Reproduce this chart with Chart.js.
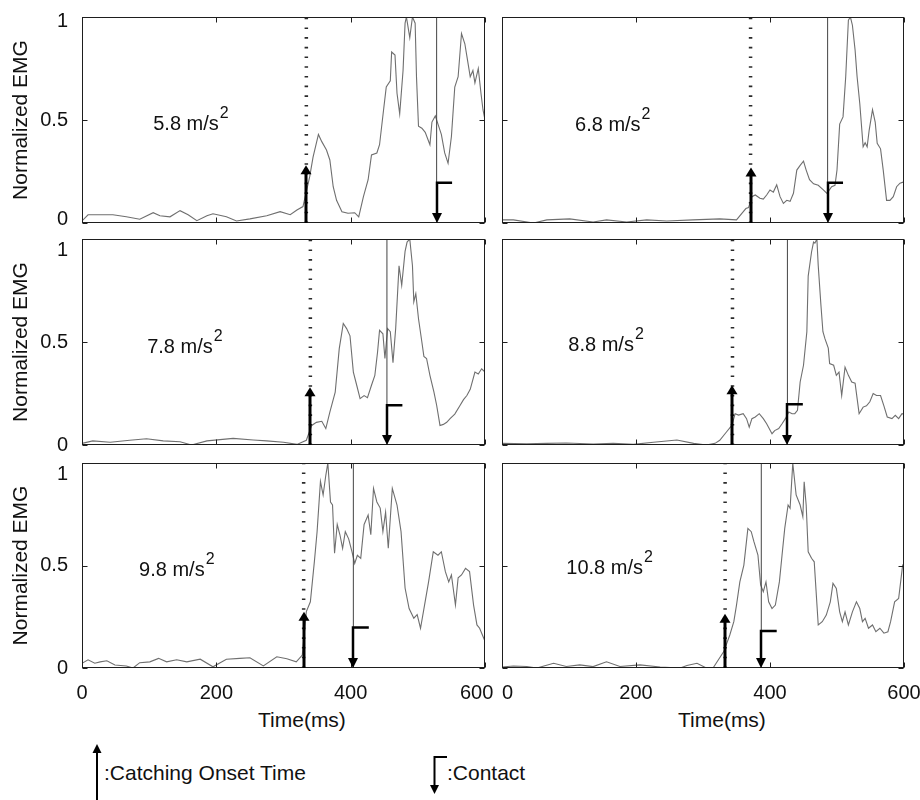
<!DOCTYPE html>
<html>
<head>
<meta charset="utf-8">
<script src="https://cdn.jsdelivr.net/npm/chart.js@4.4.1/dist/chart.umd.min.js"></script>
<style>
html,body{margin:0;padding:0;background:#fff;}
#wrap{position:relative;width:920px;height:800px;overflow:hidden;background:#fff;}
#wrap canvas{position:absolute;}
.txt{position:absolute;font-family:'Liberation Sans',Arial,Helvetica,sans-serif;font-size:21px;line-height:24px;color:#111;white-space:nowrap;}
svg{position:absolute;left:0;top:0;}
</style>
</head>
<body>
<div id="wrap">
  <div class="txt" style="left:258px;top:708px;">Time(ms)</div>
  <div class="txt" style="left:678px;top:708px;">Time(ms)</div>
  <div class="txt" style="left:104px;top:761px;">:Catching Onset Time</div>
  <div class="txt" style="left:447px;top:761px;">:Contact</div>
  <svg width="920" height="800">
    <line x1="97" y1="800" x2="97" y2="751" stroke="#000" stroke-width="2"/>
    <polygon points="97,744 92.5,753 101.5,753" fill="#000"/>
    <polyline points="447,757 434.5,757 434.5,786" fill="none" stroke="#000" stroke-width="2"/>
    <polygon points="434.5,794 430,785 439,785" fill="#000"/>
  </svg>
</div>
<script>
// ---------------- data ----------------
const accelLabels = ['5.8', '6.8', '7.8', '8.8', '9.8', '10.8'];
const xTickValues = [0, 200, 400, 600];
const yTickValues = [0, 0.5, 1];

// [time (ms), normalized EMG]
const emg58 = [[0,0.01],[9,0.04],[27,0.04],[46,0.04],[66,0.03],[86,0.018],[106,0.05],[116,0.035],[131,0.03],[146,0.06],[158,0.04],[171,0.011],[186,0.035],[195,0.045],[215,0.03],[230,0.01],[250,0.02],[275,0.035],[295,0.055],[310,0.04],[320,0.063],[329,0.08],[339,0.225],[344,0.32],[352,0.43],[357,0.395],[364,0.354],[369,0.306],[374,0.176],[379,0.11],[387,0.055],[396,0.047],[406,0.05],[412,0.03],[419,0.128],[426,0.21],[431,0.33],[439,0.34],[443,0.38],[449,0.55],[453,0.66],[459,0.69],[461,0.83],[466,0.815],[469,0.63],[473,0.53],[478,0.74],[481,0.97],[483,1.0],[488,0.9],[492,1.0],[496,0.97],[498,0.71],[501,0.47],[506,0.46],[511,0.44],[518,0.38],[521,0.49],[526,0.52],[530,0.48],[535,0.43],[540,0.34],[545,0.29],[550,0.42],[555,0.66],[560,0.71],[565,0.92],[570,0.87],[573,0.81],[578,0.71],[582,0.74],[585,0.68],[590,0.75],[594,0.63],[597,0.55],[600,0.5]];
const emg68 = [[0,0.015],[17,0.015],[47,0.0],[67,0.015],[101,0.02],[136,0.005],[156,0.015],[186,0.005],[216,0.015],[246,0.01],[285,0.015],[325,0.02],[350,0.015],[358,0.047],[364,0.07],[368,0.075],[373,0.128],[378,0.136],[385,0.12],[390,0.116],[395,0.136],[400,0.16],[405,0.15],[410,0.185],[415,0.128],[420,0.095],[425,0.11],[430,0.105],[435,0.144],[440,0.257],[445,0.28],[450,0.3],[454,0.257],[459,0.21],[465,0.19],[472,0.183],[480,0.16],[485,0.144],[492,0.176],[497,0.183],[500,0.257],[504,0.48],[509,0.515],[513,0.71],[517,0.985],[520,1.0],[523,0.96],[527,0.84],[530,0.71],[534,0.58],[539,0.37],[542,0.39],[545,0.37],[548,0.45],[553,0.55],[557,0.49],[560,0.387],[565,0.36],[569,0.257],[574,0.11],[579,0.11],[584,0.128],[589,0.176],[594,0.193],[600,0.2]];
const emg78 = [[0,0.008],[16,0.02],[42,0.013],[71,0.023],[96,0.03],[121,0.02],[146,0.016],[163,0.0],[186,0.02],[225,0.032],[255,0.024],[275,0.02],[300,0.013],[320,0.003],[334,0.023],[342,0.095],[349,0.11],[357,0.115],[363,0.08],[369,0.16],[377,0.257],[383,0.468],[389,0.59],[394,0.565],[399,0.53],[404,0.354],[409,0.29],[414,0.225],[420,0.24],[425,0.23],[431,0.29],[436,0.338],[440,0.45],[443,0.557],[448,0.54],[451,0.42],[455,0.565],[459,0.55],[463,0.4],[467,0.565],[472,0.87],[476,0.775],[481,0.94],[484,0.985],[488,1.0],[492,0.87],[494,0.695],[497,0.735],[501,0.613],[506,0.5],[509,0.43],[513,0.42],[518,0.338],[524,0.257],[528,0.193],[533,0.095],[538,0.1],[543,0.11],[548,0.128],[555,0.15],[563,0.193],[568,0.22],[573,0.24],[578,0.27],[585,0.354],[590,0.345],[595,0.37],[600,0.354]];
const emg88 = [[0,0.008],[37,0.006],[67,0.008],[96,0.01],[136,0.005],[166,0.008],[196,0.003],[226,0.013],[261,0.024],[286,0.008],[305,0.0],[318,0.008],[325,0.023],[335,0.063],[343,0.095],[348,0.152],[353,0.145],[360,0.152],[365,0.128],[369,0.087],[373,0.128],[378,0.136],[384,0.152],[390,0.128],[395,0.103],[403,0.055],[407,0.07],[413,0.08],[418,0.103],[423,0.128],[428,0.16],[433,0.152],[437,0.152],[441,0.168],[445,0.306],[450,0.387],[455,0.55],[457,0.82],[462,0.937],[465,0.985],[467,0.98],[470,1.0],[472,0.87],[476,0.68],[479,0.55],[482,0.516],[487,0.47],[489,0.395],[495,0.387],[499,0.338],[503,0.354],[507,0.24],[512,0.378],[517,0.338],[522,0.306],[527,0.3],[533,0.152],[539,0.184],[544,0.19],[549,0.21],[554,0.25],[559,0.24],[565,0.24],[570,0.19],[575,0.136],[582,0.128],[587,0.144],[592,0.128],[597,0.152],[600,0.15]];
const emg98 = [[0,0.023],[9,0.04],[19,0.023],[27,0.03],[37,0.035],[49,0.015],[66,0.01],[76,0.0],[86,0.026],[101,0.03],[114,0.047],[126,0.03],[141,0.04],[156,0.03],[176,0.043],[195,0.006],[215,0.043],[235,0.047],[250,0.05],[270,0.01],[290,0.055],[305,0.045],[319,0.03],[328,0.063],[334,0.275],[340,0.323],[346,0.52],[350,0.665],[355,0.91],[359,0.844],[363,0.94],[366,1.0],[370,0.81],[373,0.795],[376,0.56],[380,0.7],[384,0.65],[388,0.584],[392,0.665],[397,0.63],[402,0.567],[406,0.51],[410,0.55],[415,0.535],[420,0.7],[426,0.746],[430,0.65],[434,0.876],[439,0.81],[444,0.78],[448,0.665],[452,0.76],[456,0.584],[462,0.876],[469,0.795],[475,0.665],[481,0.39],[487,0.29],[494,0.243],[499,0.26],[504,0.194],[510,0.307],[516,0.42],[523,0.567],[530,0.55],[535,0.567],[541,0.47],[546,0.42],[550,0.454],[556,0.307],[560,0.44],[565,0.454],[571,0.486],[577,0.47],[583,0.307],[588,0.21],[592,0.194],[598,0.146],[600,0.13]];
const emg108 = [[0,0.005],[17,0.01],[37,0.007],[52,0.0],[77,0.023],[96,0.007],[116,0.015],[136,0.007],[156,0.03],[176,0.007],[206,0.015],[236,0.005],[266,0.0],[276,0.012],[291,0.023],[305,0.0],[315,0.0],[323,0.04],[331,0.08],[340,0.161],[346,0.226],[350,0.307],[355,0.42],[361,0.502],[367,0.681],[372,0.665],[376,0.616],[382,0.551],[386,0.405],[390,0.372],[394,0.42],[398,0.323],[403,0.29],[408,0.307],[414,0.42],[418,0.551],[422,0.681],[427,0.795],[430,0.779],[434,1.0],[439,0.844],[445,0.795],[449,0.738],[451,0.908],[454,0.795],[457,0.567],[462,0.535],[466,0.518],[472,0.21],[478,0.226],[484,0.258],[490,0.323],[494,0.413],[499,0.388],[504,0.274],[508,0.226],[512,0.274],[517,0.21],[523,0.274],[529,0.323],[534,0.29],[538,0.226],[542,0.242],[547,0.194],[553,0.21],[558,0.177],[564,0.194],[570,0.17],[576,0.177],[580,0.226],[586,0.323],[592,0.339],[598,0.502],[600,0.5]];
const emgSeries = [emg58, emg68, emg78, emg88, emg98, emg108];

// event markers (ms / normalized level)
const onsetTimes = [334, 371, 340, 344, 330, 333];
const onsetArrowTops = [0.28, 0.27, 0.28, 0.29, 0.275, 0.265];
const contactTimes = [528, 486, 454, 426, 404, 387];
const contactLevels = [0.195, 0.195, 0.193, 0.198, 0.197, 0.18];
const contactTailMs = 23;
// annotation anchors (ms, normalized level)
const labelTimes = [106, 109, 97, 99, 85, 96];
const labelLevels = [0.49, 0.485, 0.482, 0.494, 0.486, 0.494];

// ---------------- layout / style ----------------
const FONT = "'Liberation Sans', Arial, Helvetica, sans-serif";
const cols = [
  {left: 0, width: 512, padL: 0, padR: 27},
  {left: 490, width: 430, padL: 12, padR: 16}
];
const rows = [
  {top: 0, height: 232, padT: 17, padB: 9, yLH: '8px'},
  {top: 228, height: 226, padT: 11, padB: 9, yLH: '22px'},
  {top: 452, height: 290, padT: 11, padB: 0, yLH: '22px'}
];

const panelPlugin = {
  id: 'panelMarks',
  afterDatasetsDraw(chart, args, opts) {
    const i = opts.index;
    const ctx = chart.ctx;
    const xs = chart.scales.x, ys = chart.scales.y;
    const a = chart.chartArea;
    ctx.save();
    // frame
    ctx.strokeStyle = '#1e1e1e';
    ctx.lineWidth = 1;
    const L = Math.round(a.left) + 0.5, R = Math.round(a.right) - 0.5;
    const T = Math.round(a.top) + 0.5, B = Math.round(a.bottom) - 0.5;
    ctx.strokeRect(L, T, R - L, B - T);
    // inward tick marks
    ctx.beginPath();
    xTickValues.forEach(v => {
      const px = Math.round(xs.getPixelForValue(v)) + 0.5;
      ctx.moveTo(px, B); ctx.lineTo(px, B - 5);
      ctx.moveTo(px, T); ctx.lineTo(px, T + 5);
    });
    yTickValues.forEach(v => {
      const py = Math.round(ys.getPixelForValue(v)) + 0.5;
      ctx.moveTo(L, py); ctx.lineTo(L + 5, py);
      ctx.moveTo(R, py); ctx.lineTo(R - 5, py);
    });
    ctx.stroke();

    const y0 = ys.getPixelForValue(0);
    ctx.fillStyle = '#000';
    ctx.strokeStyle = '#000';
    // onset arrow
    const ox = Math.round(xs.getPixelForValue(onsetTimes[i]));
    const tip = ys.getPixelForValue(onsetArrowTops[i]);
    ctx.lineWidth = 3;
    ctx.beginPath(); ctx.moveTo(ox, y0); ctx.lineTo(ox, tip + 6); ctx.stroke();
    ctx.beginPath(); ctx.moveTo(ox, tip); ctx.lineTo(ox - 5.5, tip + 9); ctx.lineTo(ox + 5.5, tip + 9); ctx.closePath(); ctx.fill();
    // contact marker
    const cx = Math.round(xs.getPixelForValue(contactTimes[i]));
    const cx2 = xs.getPixelForValue(contactTimes[i] + contactTailMs);
    const cy = ys.getPixelForValue(contactLevels[i]);
    ctx.lineWidth = 2.5;
    ctx.lineJoin = 'miter';
    ctx.beginPath(); ctx.moveTo(cx2, cy); ctx.lineTo(cx, cy); ctx.lineTo(cx, y0 - 8); ctx.stroke();
    ctx.beginPath(); ctx.moveTo(cx, y0); ctx.lineTo(cx - 5, y0 - 10); ctx.lineTo(cx + 5, y0 - 10); ctx.closePath(); ctx.fill();

    // acceleration label
    const lx = xs.getPixelForValue(labelTimes[i]);
    const ly = ys.getPixelForValue(labelLevels[i]);
    ctx.fillStyle = '#111';
    ctx.textAlign = 'left';
    ctx.textBaseline = 'alphabetic';
    ctx.font = '20px ' + FONT;
    const main = accelLabels[i] + ' m/s';
    const base = ly + 7.5;
    ctx.fillText(main, lx, base);
    const w = ctx.measureText(main).width;
    ctx.font = '16px ' + FONT;
    ctx.fillText('2', lx + w + 1, base - 12);
    ctx.restore();
  }
};

const wrap = document.getElementById('wrap');

function makePanel(i) {
  const r = Math.floor(i / 2), c = i % 2;
  const R = rows[r], C = cols[c];
  const cv = document.createElement('canvas');
  cv.width = C.width; cv.height = R.height;
  cv.style.left = C.left + 'px'; cv.style.top = R.top + 'px';
  cv.style.width = C.width + 'px'; cv.style.height = R.height + 'px';
  wrap.appendChild(cv);
  const isBottom = r === 2, isLeft = c === 0;

  new Chart(cv.getContext('2d'), {
    type: 'line',
    data: {
      datasets: [
        { // onset (dotted) line
          data: [{x: onsetTimes[i], y: 0}, {x: onsetTimes[i], y: 1}],
          borderColor: '#2a2a2a', borderWidth: 3.5, borderDash: [1.6, 8.1],
          pointRadius: 0, fill: false
        },
        { // contact (solid) line
          data: [{x: contactTimes[i], y: 0}, {x: contactTimes[i], y: 1}],
          borderColor: '#444', borderWidth: 1, pointRadius: 0, fill: false
        },
        { // EMG trace
          data: emgSeries[i].map(p => ({x: p[0], y: p[1]})),
          borderColor: '#6f6f6f', borderWidth: 1.1, pointRadius: 0, tension: 0, fill: false
        }
      ]
    },
    options: {
      responsive: false,
      animation: false,
      devicePixelRatio: 1,
      events: [],
      layout: {padding: {left: C.padL, right: C.padR, top: R.padT, bottom: R.padB}},
      plugins: {
        legend: {display: false},
        tooltip: {enabled: false},
        panelMarks: {index: i}
      },
      scales: {
        x: {
          type: 'linear', min: 0, max: 600,
          display: isBottom,
          afterBuildTicks: s => { s.ticks = xTickValues.map(v => ({value: v})); },
          afterFit: s => {
            if (isBottom) s.height = 74;
            s.paddingLeft = 0; s.paddingRight = 0;
          },
          grid: {display: false, drawTicks: false},
          border: {display: false},
          ticks: {
            autoSkip: false, maxRotation: 0, padding: 13, color: '#111',
            font: {family: FONT, size: 20},
            callback: v => {
              if (c === 0 && v === 600) return '600   ';
              if (c === 1 && v === 0) return '  0';
              return String(v);
            }
          }
        },
        y: {
          type: 'linear', min: 0, max: 1,
          display: isLeft,
          afterBuildTicks: s => { s.ticks = yTickValues.map(v => ({value: v})); },
          afterFit: s => {
            if (isLeft) s.width = 82;
            s.paddingTop = 0; s.paddingBottom = 0;
          },
          grid: {display: false, drawTicks: false},
          border: {display: false},
          title: {
            display: true, text: 'Normalized EMG', color: '#111',
            font: {family: FONT, size: 21}, padding: {top: 9, bottom: 0}
          },
          ticks: {
            padding: 14, color: '#111',
            font: {family: FONT, size: 20, lineHeight: R.yLH},
            callback: v => {
              const s = String(v);
              if (v === 1) return ['', s];
              if (v === 0 && r === 0) return [s, ''];
              return s;
            }
          }
        }
      }
    },
    plugins: [panelPlugin]
  });
}

for (let i = 0; i < 6; i++) makePanel(i);
</script>
</body>
</html>
